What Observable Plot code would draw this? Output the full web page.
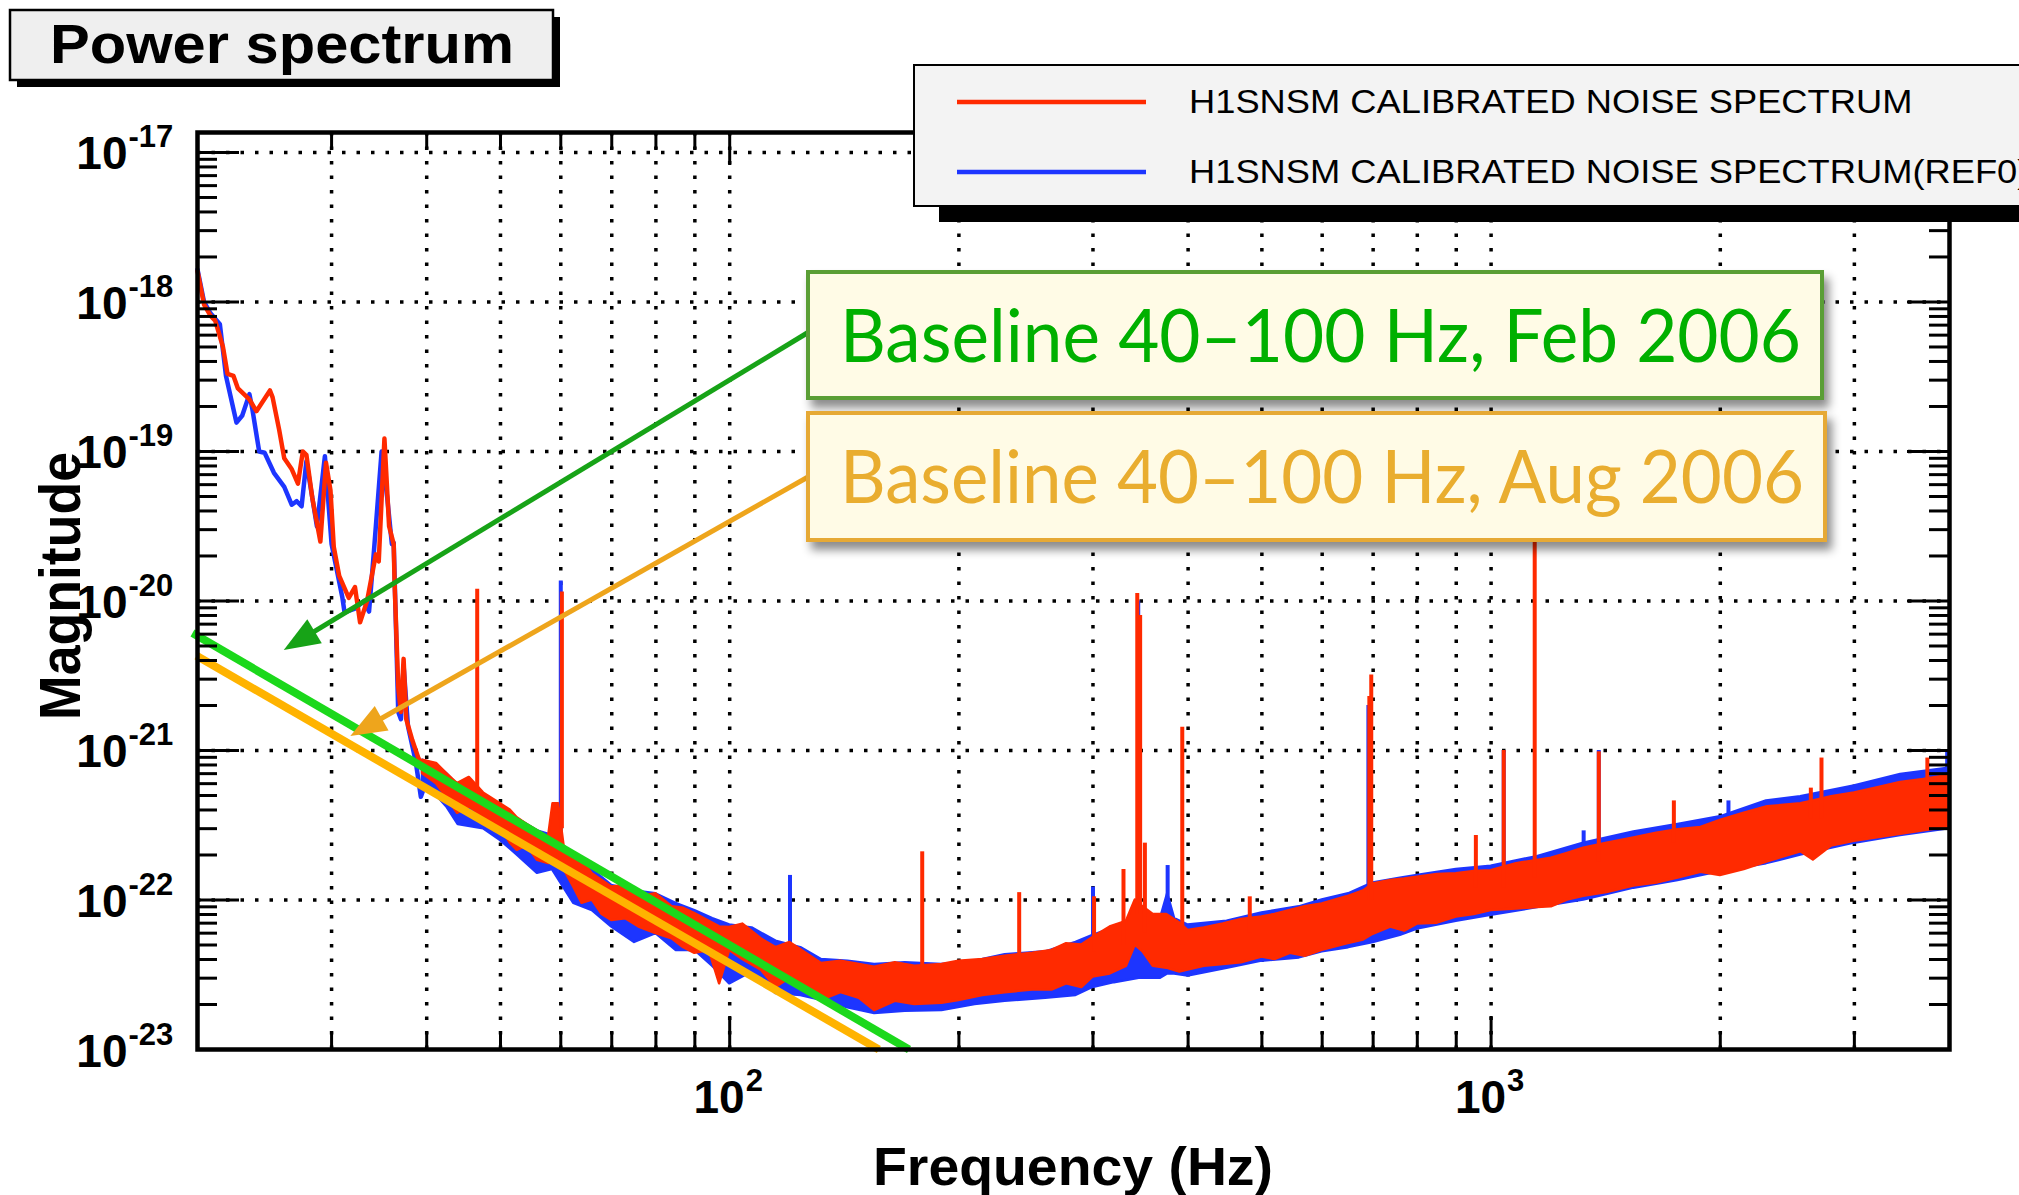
<!DOCTYPE html>
<html>
<head>
<meta charset="utf-8">
<script src="https://cdn.jsdelivr.net/npm/d3@7"></script>
<script src="https://cdn.jsdelivr.net/npm/@observablehq/plot@0.6"></script>
<style>
html, body { margin: 0; padding: 0; background: #fff; overflow: hidden; }
#wrap { position: relative; width: 2019px; height: 1195px; overflow: hidden; }
#wrap svg { position: absolute; left: 0; top: 0; }
</style>
</head>
<body>
<div id="wrap"></div>
<script>
// ---------------- DATA ----------------
const titleText = "Power spectrum";
const xLabel = "Frequency (Hz)";
const yLabel = "Magnitude";
const legendLabels = ["H1SNSM CALIBRATED NOISE SPECTRUM", "H1SNSM CALIBRATED NOISE SPECTRUM(REF0)"];
const noteLabels = ["Baseline 40\u2013100 Hz, Feb 2006", "Baseline 40\u2013100 Hz, Aug 2006"];

// axis ticks
const xGridTicks = [30, 40, 50, 60, 70, 80, 90, 100, 200, 300, 400, 500, 600, 700, 800, 900, 1000, 2000, 3000];
const xMajorTicks = [100, 1000];
const xTickLabels = [{v: 100, exp: "2"}, {v: 1000, exp: "3"}];
const yDecades = [1e-23, 1e-22, 1e-21, 1e-20, 1e-19, 1e-18, 1e-17];
const yTickLabels = [
  {v: 1e-23, exp: "-23"}, {v: 1e-22, exp: "-22"}, {v: 1e-21, exp: "-21"}, {v: 1e-20, exp: "-20"},
  {v: 1e-19, exp: "-19"}, {v: 1e-18, exp: "-18"}, {v: 1e-17, exp: "-17"}
];

// low-frequency part of the spectra: [Hz, magnitude]
const redLow = [
  [20.0,1.61e-18],[20.4,9.6e-19],[20.8,8.1e-19],[21.1,7.5e-19],[21.6,5.0e-19],[21.9,3.3e-19],[22.3,3.2e-19],
  [22.6,2.64e-19],[23.4,2.23e-19],[23.9,1.86e-19],[24.9,2.56e-19],[25.1,2.3e-19],[25.6,1.40e-19],[26.0,9.0e-20],
  [26.6,7.6e-20],[27.1,6.1e-20],[27.5,1.0e-19],[27.8,9.5e-20],[28.3,4.9e-20],[29.0,2.5e-20],[29.5,8.4e-20],
  [29.9,5.5e-20],[30.2,2.3e-20],[30.7,1.47e-20],[31.6,1.05e-20],[32.2,1.24e-20],[32.7,7.2e-21],[33.4,1.0e-20],
  [34.3,2.05e-20],[34.6,1.84e-20],[35.2,1.22e-19],[35.7,3.16e-20],[36.2,2.4e-20],[36.3,1.31e-20],[36.7,2.66e-21],
  [37.0,1.81e-21],[37.3,4.1e-21],[37.6,1.62e-21],[38.3,1.17e-21],[39.0,8.9e-22],[39.6,7.5e-22],[40.4,7.9e-22]
];
const blueLow = [
  [20.0,1.65e-18],[20.4,1.0e-18],[20.8,8.4e-19],[21.4,7.1e-19],[21.8,3.2e-19],[22.5,1.56e-19],[22.9,1.74e-19],
  [23.4,2.42e-19],[23.6,1.94e-19],[24.1,1.0e-19],[24.5,9.8e-20],[25.2,7.2e-20],[26.0,5.8e-20],[26.6,4.4e-20],
  [27.0,4.65e-20],[27.4,4.3e-20],[27.8,8.6e-20],[28.7,3.16e-20],[29.4,9.3e-20],[30.0,2.4e-20],[31.0,1.05e-20],
  [31.2,8.4e-21],[32.2,8.9e-21],[33.1,1.0e-20],[33.6,8.5e-21],[34.1,2.15e-20],[34.9,1.0e-19],[35.5,4.9e-20],
  [36.0,2.4e-20],[36.2,2.45e-20],[36.7,1.81e-21],[37.0,1.62e-21],[37.3,3.7e-21],[37.8,1.45e-21],[38.7,8.4e-22],
  [39.3,4.9e-22],[40.2,6.8e-22]
];

// noise band above 40 Hz: [Hz, lower envelope, upper envelope]
const redBand = [
  [39.5,7.0e-22,8.6e-22],[41.2,6.0e-22,8.2e-22],[42.5,4.85e-22,7.0e-22],[43.9,3.8e-22,6.0e-22],[45.5,4.2e-22,6.6e-22],
  [47.5,3.6e-22,5.2e-22],[50,3.05e-22,4.4e-22],[51.5,2.4e-22,4.0e-22],[52.6,2.15e-22,3.55e-22],[54.2,2.3e-22,3.2e-22],
  [55.9,1.84e-22,2.9e-22],[57.8,1.75e-22,2.6e-22],[58.6,1.8e-22,4.4e-22],[59.6,1.9e-22,4.4e-22],[60.6,1.6e-22,2.3e-22],
  [62.4,1.22e-22,1.93e-22],
  [64,9.5e-23,1.84e-22],[66,1.0e-22,1.5e-22],[68,8.0e-23,1.35e-22],[70,7.3e-23,1.22e-22],[73,7.5e-23,1.25e-22],
  [76,6.6e-23,1.05e-22],[80,5.96e-23,1.1e-22],[84,5.5e-23,9.0e-23],[87,4.8e-23,8.8e-23],[90,4.4e-23,8.1e-23],
  [94,4.6e-23,7.2e-23],[97,2.75e-23,6.6e-23],[100,4.6e-23,6.55e-23],[104,4.0e-23,6.9e-23],[110,3.4e-23,5.5e-23],
  [115,2.6e-23,4.8e-23],[120,3.0e-23,5.2e-23],[126,2.7e-23,4.4e-23],[132,2.13e-23,3.76e-23],[140,2.4e-23,3.9e-23],
  [148,2.2e-23,3.7e-23],[155,1.82e-23,3.55e-23],[165,2.1e-23,3.8e-23],[175,2.0e-23,3.6e-23],[190,2.04e-23,3.7e-23],
  [200,2.13e-23,3.9e-23],[215,2.3e-23,4.0e-23],[230,2.4e-23,4.2e-23],[250,2.5e-23,4.4e-23],[265,2.5e-23,4.6e-23],
  [277,2.75e-23,5.1e-23],[290,2.6e-23,5.0e-23],[300,3.05e-23,5.6e-23],[316,3.2e-23,6.6e-23],[332,3.6e-23,7.2e-23],
  [341,5.0e-23,1.0e-22],[349,4.5e-23,9.0e-23],[360,3.6e-23,8.0e-23],[375,3.5e-23,8.0e-23],[390,3.3e-23,7.0e-23],
  [400,3.4e-23,6.25e-23],[420,3.6e-23,6.5e-23],[445,3.7e-23,6.9e-23],[470,3.8e-23,7.4e-23],[500,4.15e-23,7.7e-23],
  [520,4.0e-23,8.0e-23],[545,4.4e-23,8.5e-23],[570,4.2e-23,9.0e-23],[600,4.6e-23,9.4e-23],[647,5.1e-23,1.05e-22],
  [680,5.4e-23,1.15e-22],[700,5.9e-23,1.28e-22],[738,6.6e-23,1.35e-22],[770,6.2e-23,1.38e-22],[800,6.9e-23,1.42e-22],
  [850,7.0e-23,1.48e-22],[900,7.7e-23,1.5e-22],[950,8.0e-23,1.55e-22],[1000,8.5e-23,1.57e-22],[1080,8.7e-23,1.75e-22],
  [1150,8.9e-23,1.84e-22],[1200,9.0e-23,1.9e-22],[1260,1.0e-22,2.05e-22],[1323,1.06e-22,2.22e-22],[1420,1.12e-22,2.4e-22],
  [1540,1.24e-22,2.6e-22],[1650,1.3e-22,2.8e-22],[1760,1.4e-22,2.95e-22],[1886,1.53e-22,3.06e-22],[2000,1.46e-22,3.4e-22],
  [2150,1.6e-22,3.8e-22],[2307,1.8e-22,4.2e-22],[2552,2.1e-22,4.4e-22],[2650,1.85e-22,4.6e-22],[2800,2.3e-22,4.9e-22],
  [3000,2.47e-22,5.2e-22],[3200,2.6e-22,5.6e-22],[3450,2.75e-22,6.1e-22],[3700,2.9e-22,6.4e-22],[3990,3.06e-22,6.8e-22]
];
const blueBand = [
  [39.5,6.0e-22,8.6e-22],[41.2,5.0e-22,8.0e-22],[42.5,4.2e-22,7.0e-22],[44,3.2e-22,5.8e-22],[47.5,3.0e-22,5.0e-22],
  [50,2.5e-22,4.3e-22],[52.6,2.0e-22,3.5e-22],[55.9,1.51e-22,2.9e-22],[58.5,1.6e-22,2.7e-22],[62.4,9.5e-23,1.95e-22],
  [66,8.5e-23,1.6e-22],[70,6.6e-23,1.25e-22],[75,5.2e-23,1.15e-22],[80,5.96e-23,1.1e-22],[85,4.6e-23,9.5e-23],
  [90,4.6e-23,8.5e-23],[95,3.6e-23,7.5e-23],[100,2.75e-23,6.8e-23],[107,3.3e-23,6.5e-23],[115,2.37e-23,5.3e-23],
  [124,2.3e-23,4.8e-23],[132,2.13e-23,4.0e-23],[143,1.9e-23,3.9e-23],[155,1.74e-23,3.7e-23],[170,1.8e-23,3.8e-23],
  [190,1.82e-23,3.7e-23],[210,2.0e-23,3.9e-23],[230,2.1e-23,4.3e-23],[260,2.2e-23,4.5e-23],[285,2.3e-23,5.2e-23],
  [300,2.6e-23,5.8e-23],[320,2.8e-23,6.5e-23],[345,3.0e-23,8.0e-23],[368,3.0e-23,7.5e-23],[376,3.2e-23,1.1e-22],
  [384,3.2e-23,7.5e-23],
  [400,3.1e-23,6.8e-23],[450,3.5e-23,7.2e-23],[500,3.9e-23,8.2e-23],[560,4.1e-23,9.0e-23],[600,4.5e-23,1.0e-22],
  [650,4.8e-23,1.1e-22],[700,5.2e-23,1.3e-22],[760,5.8e-23,1.4e-22],[800,6.4e-23,1.46e-22],[900,7.2e-23,1.6e-22],
  [1000,7.9e-23,1.68e-22],[1150,8.9e-23,1.95e-22],[1323,1.0e-22,2.4e-22],[1540,1.2e-22,2.85e-22],[1760,1.35e-22,3.2e-22],
  [2000,1.55e-22,3.6e-22],[2300,1.75e-22,4.6e-22],[2550,2.0e-22,4.9e-22],[3000,2.4e-22,5.8e-22],[3450,2.7e-22,6.9e-22],
  [3990,3.0e-22,7.6e-22]
];

// narrow lines: [Hz, base, peak]
const redSpikes = [
  [46.6,4.5e-22,1.2e-20],[60.2,3.0e-22,1.15e-20],[179,3.4e-23,2.1e-22],[240,4.0e-23,1.12e-22],[301,4.5e-23,1.05e-22],
  [329,5e-23,1.6e-22],[343,8e-23,1.12e-20],[346,8e-23,8e-21],[351,6e-23,2.4e-22],[393,5e-23,1.43e-21],
  [482,6e-23,1.05e-22],[692,1e-22,2.3e-21],[696,1e-22,3.2e-21],[955,1.2e-22,2.7e-22],[1039,1.2e-22,1.0e-21],
  [1141,1.4e-22,3.0e-20],[1385,1.8e-22,9.8e-22],[1738,2.4e-22,4.6e-22],[2630,3.5e-22,5.6e-22],[2716,3.5e-22,8.9e-22],
  [3741,4.5e-22,8.9e-22]
];
const blueSpikes = [
  [60.0,3.0e-22,1.36e-20],[120,4e-23,1.46e-22],[300,4.5e-23,1.22e-22],[344,8e-23,1.0e-20],[376,5e-23,1.7e-22],
  [690,1e-22,2.0e-21],[1039,1.2e-22,1.0e-21],[1323,1.6e-22,2.9e-22],[1385,1.8e-22,1.0e-21],[2050,2.8e-22,4.6e-22],
  [3972,5e-22,1.0e-21]
];

// hand-drawn baselines: [Hz, magnitude] end points
const febBaseline = [[19.7, 6.1e-21], [172, 1e-23]];
const augBaseline = [[19.94, 4.3e-21], [157, 1e-23]];
// annotation arrows: tail (Hz, magnitude) -> tip (Hz, magnitude)
const febArrow = {f1: 126.9, v1: 6.2e-19, f2: 26.0, v2: 4.67e-21};
const augArrow = {f1: 126.9, v1: 6.7e-20, f2: 31.8, v2: 1.24e-21};

// ---------------- LAYOUT / STYLE ----------------
const W = 2019, H = 1195, ML = 197, MR = 70, MT = 132, MB = 146;
const FW = W - ML - MR, FH = H - MT - MB;
const RED = "#ff2a00", BLUE = "#1d35ff";
const FONT = "'Liberation Sans', Arial, Helvetica, sans-serif";

const toPts = a => a.map(([f, v]) => ({f, v}));
const toBand = a => a.map(([f, lo, hi]) => ({f, lo, hi}));
const toSpk = a => a.map(([f, b, p]) => ({f, b, p}));

const yMinor = [];
for (const d of yDecades.slice(0, -1)) for (let k = 2; k <= 9; k++) yMinor.push(d * k);
const xMinor = xGridTicks.filter(d => !xMajorTicks.includes(d));

const grid = {stroke: "#000", strokeWidth: 3.5, strokeDasharray: "3.5,11"};
const tk = {stroke: "#000", strokeWidth: 3};

const plot = Plot.plot({
  width: W, height: H,
  marginLeft: ML, marginRight: MR, marginTop: MT, marginBottom: MB,
  style: {background: "transparent", fontFamily: FONT, overflow: "visible"},
  x: {type: "log", domain: [20, 4000], axis: null},
  y: {type: "log", domain: [1e-23, 1.36e-17], axis: null},
  marks: [
    Plot.ruleX(xGridTicks, {x: d => d, ...grid}),
    Plot.ruleY(yDecades.slice(1), {y: d => d, ...grid}),
    // blue (reference)
    Plot.areaY(toBand(blueBand), {x: "f", y1: "lo", y2: "hi", fill: BLUE, stroke: BLUE, strokeWidth: 2.5}),
    Plot.ruleX(toSpk(blueSpikes), {x: "f", y1: "b", y2: "p", stroke: BLUE, strokeWidth: 4}),
    Plot.line(toPts(blueLow), {x: "f", y: "v", stroke: BLUE, strokeWidth: 4.5, strokeLinejoin: "round"}),
    // red (current)
    Plot.areaY(toBand(redBand), {x: "f", y1: "lo", y2: "hi", fill: RED, stroke: RED, strokeWidth: 2.5}),
    Plot.ruleX(toSpk(redSpikes), {x: "f", y1: "b", y2: "p", stroke: RED, strokeWidth: 4}),
    Plot.line(toPts(redLow), {x: "f", y: "v", stroke: RED, strokeWidth: 4.5, strokeLinejoin: "round"}),
    // baselines
    Plot.line(toPts(febBaseline), {x: "f", y: "v", stroke: "#1bd81b", strokeWidth: 8, strokeLinecap: "butt"}),
    Plot.line(toPts(augBaseline), {x: "f", y: "v", stroke: "#ffb300", strokeWidth: 8, strokeLinecap: "butt"}),
    // ticks, all inward
    Plot.tickY(yMinor, {y: d => d, insetRight: FW - 20, ...tk}),
    Plot.tickY(yDecades, {y: d => d, insetRight: FW - 42, ...tk}),
    Plot.tickY(yMinor, {y: d => d, insetLeft: FW - 20, ...tk}),
    Plot.tickY(yDecades, {y: d => d, insetLeft: FW - 42, ...tk}),
    Plot.tickX(xMinor, {x: d => d, insetTop: FH - 17, ...tk}),
    Plot.tickX(xMajorTicks, {x: d => d, insetTop: FH - 33, ...tk}),
    Plot.tickX(xMinor, {x: d => d, insetBottom: FH - 17, ...tk}),
    Plot.tickX(xMajorTicks, {x: d => d, insetBottom: FH - 33, ...tk}),
    Plot.frame({stroke: "#000", strokeWidth: 4.5}),
    // tick labels
    Plot.text(yTickLabels, {y: "v", text: () => "10", frameAnchor: "left", textAnchor: "end", lineAnchor: "bottom",
      dx: -70, dy: 17, fontSize: 46, fontWeight: "bold", fill: "#000"}),
    Plot.text(yTickLabels, {y: "v", text: "exp", frameAnchor: "left", textAnchor: "start", lineAnchor: "bottom",
      dx: -69, dy: -5, fontSize: 31, fontWeight: "bold", fill: "#000"}),
    Plot.text(xTickLabels, {x: "v", text: () => "10", frameAnchor: "bottom", textAnchor: "end", lineAnchor: "bottom",
      dx: 15, dy: 63, fontSize: 46, fontWeight: "bold", fill: "#000"}),
    Plot.text(xTickLabels, {x: "v", text: "exp", frameAnchor: "bottom", textAnchor: "start", lineAnchor: "bottom",
      dx: 16, dy: 41, fontSize: 31, fontWeight: "bold", fill: "#000"})
  ]
});

document.getElementById("wrap").appendChild(plot);

// ---------------- ANNOTATIONS (drawn on the same SVG) ----------------
const svg = d3.select(plot);
const sx = plot.scale("x"), sy = plot.scale("y");
const defs = svg.append("defs");
defs.append("filter").attr("id", "softsh").attr("x", "-10%").attr("y", "-20%").attr("width", "130%").attr("height", "160%")
  .append("feDropShadow").attr("dx", 5).attr("dy", 8).attr("stdDeviation", 5)
  .attr("flood-color", "#000").attr("flood-opacity", 0.45);

// axis titles
svg.append("text").text(xLabel)
  .attr("x", ML + FW / 2).attr("y", 1185).attr("text-anchor", "middle")
  .attr("font-family", FONT).attr("font-weight", "bold").attr("font-size", 53)
  .attr("textLength", 400).attr("lengthAdjust", "spacingAndGlyphs").attr("fill", "#000");
svg.append("text").text(yLabel)
  .attr("transform", `translate(80,${586}) rotate(-90)`).attr("text-anchor", "middle")
  .attr("font-family", FONT).attr("font-weight", "bold").attr("font-size", 58)
  .attr("textLength", 268).attr("lengthAdjust", "spacingAndGlyphs").attr("fill", "#000");

// arrows
function arrow(a, color) {
  const x1 = sx.apply(a.f1), y1 = sy.apply(a.v1), x2 = sx.apply(a.f2), y2 = sy.apply(a.v2);
  const ang = Math.atan2(y2 - y1, x2 - x1);
  const L = 36, hw = 14;
  const bx = x2 - L * Math.cos(ang), by = y2 - L * Math.sin(ang);
  svg.append("line").attr("x1", x1).attr("y1", y1).attr("x2", bx + 2 * Math.cos(ang)).attr("y2", by + 2 * Math.sin(ang))
    .attr("stroke", color).attr("stroke-width", 5);
  svg.append("path")
    .attr("d", `M${x2},${y2}L${bx + hw * Math.sin(ang)},${by - hw * Math.cos(ang)}L${bx - hw * Math.sin(ang)},${by + hw * Math.cos(ang)}Z`)
    .attr("fill", color);
}
arrow(febArrow, "#17a317");
arrow(augArrow, "#eea51c");

// note boxes
function note(x, y, w, h, border, color, label, baseline, tl) {
  svg.append("rect").attr("x", x).attr("y", y).attr("width", w).attr("height", h)
    .attr("fill", "#fffbe6").attr("stroke", border).attr("stroke-width", 4).attr("filter", "url(#softsh)");
  svg.append("text").text(label).attr("x", x + 32).attr("y", baseline).attr("text-anchor", "start")
    .attr("font-family", "Lato, 'Open Sans', sans-serif").attr("font-size", 74).attr("fill", color)
    .attr("textLength", tl).attr("lengthAdjust", "spacingAndGlyphs");
}
note(808, 272, 1014, 126, "#5a9e36", "#00b000", noteLabels[0], 362, 961);
note(808, 413, 1017, 127, "#e6a935", "#e9ad2f", noteLabels[1], 503, 964);

// legend
svg.append("rect").attr("x", 939).attr("y", 81).attr("width", 1200).attr("height", 141).attr("fill", "#000");
svg.append("rect").attr("x", 914).attr("y", 65).attr("width", 1200).attr("height", 141)
  .attr("fill", "#f3f3f3").attr("stroke", "#000").attr("stroke-width", 2);
[[RED, 102, 113], [BLUE, 172, 183]].forEach(([c, ly, by], i) => {
  svg.append("line").attr("x1", 957).attr("x2", 1146).attr("y1", ly).attr("y2", ly)
    .attr("stroke", c).attr("stroke-width", 4.5);
  const t = svg.append("text").text(legendLabels[i]).attr("x", 1189).attr("y", by).attr("text-anchor", "start")
    .attr("font-family", FONT).attr("font-size", 33).attr("fill", "#000");
  const natural = t.node().getComputedTextLength();
  if (natural > 0) t.attr("textLength", natural * 1.1).attr("lengthAdjust", "spacingAndGlyphs");
});

// title box
svg.append("rect").attr("x", 17).attr("y", 17).attr("width", 543).attr("height", 70).attr("fill", "#000");
svg.append("rect").attr("x", 10).attr("y", 10).attr("width", 543).attr("height", 70)
  .attr("fill", "#efefef").attr("stroke", "#000").attr("stroke-width", 2.5);
svg.append("text").text(titleText).attr("x", 50).attr("y", 63).attr("text-anchor", "start")
  .attr("font-family", FONT).attr("font-weight", "bold").attr("font-size", 55)
  .attr("textLength", 464).attr("lengthAdjust", "spacingAndGlyphs").attr("fill", "#000");
</script>
</body>
</html>
